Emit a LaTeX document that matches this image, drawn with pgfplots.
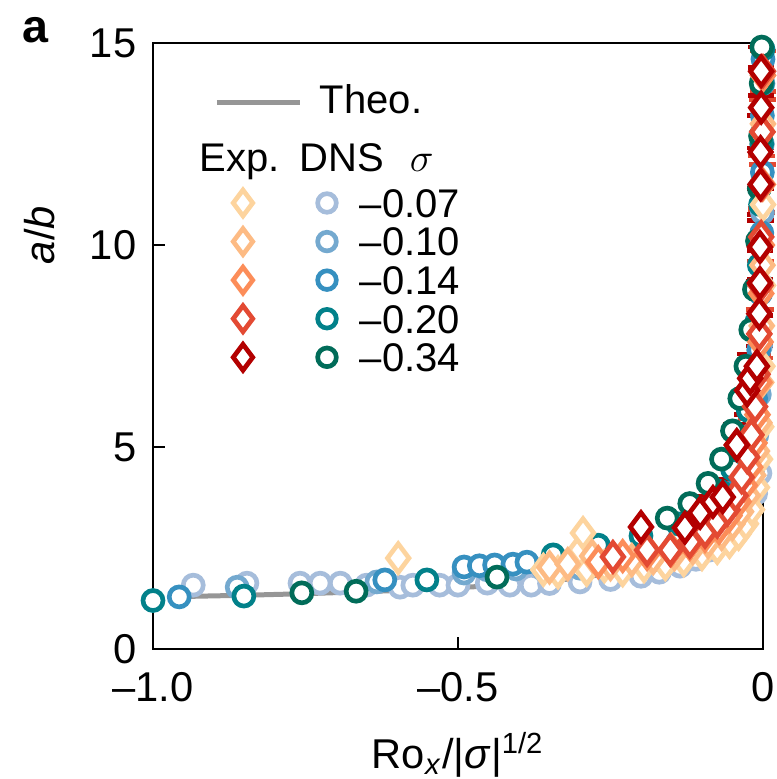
\documentclass[border=0pt]{standalone}
\usepackage{pgfplots}
\pgfplotsset{compat=1.18}
\usepackage{pgfplotstable}
\usepackage{fontspec}
\setmainfont{Liberation Sans}

\definecolor{eA}{HTML}{FDD49E}
\definecolor{eB}{HTML}{FDBB84}
\definecolor{eC}{HTML}{FC8D59}
\definecolor{eD}{HTML}{E34A33}
\definecolor{eE}{HTML}{B30000}
\definecolor{dA}{HTML}{A6BDDB}
\definecolor{dB}{HTML}{74A9CF}
\definecolor{dC}{HTML}{3690C0}
\definecolor{dD}{HTML}{02818A}
\definecolor{dE}{HTML}{016C59}
\definecolor{theo}{RGB}{150,150,150}

% ---------------- data ----------------
\pgfplotstableread{
x y
-0.950 1.30
-0.850 1.33
-0.750 1.37
-0.650 1.42
-0.550 1.48
-0.450 1.56
-0.380 1.64
-0.300 1.76
-0.220 1.95
-0.160 2.18
-0.110 2.50
-0.075 2.90
-0.050 3.40
-0.035 3.95
-0.024 4.65
-0.016 5.50
-0.011 6.50
-0.007 7.90
-0.0045 9.60
-0.003 11.5
-0.002 13.3
-0.0015 15.0
}\tTheo

\pgfplotstableread{
x y
-0.934 1.58
-0.846 1.63
-0.759 1.63
-0.726 1.63
-0.693 1.63
-0.650 1.58
-0.595 1.53
-0.574 1.58
-0.530 1.58
-0.500 1.58
-0.452 1.63
-0.415 1.58
-0.380 1.58
-0.350 1.62
-0.300 1.66
-0.250 1.72
-0.200 1.80
-0.170 1.90
-0.136 2.05
-0.110 2.22
-0.087 2.45
-0.065 2.68
-0.050 2.90
-0.035 3.15
-0.022 3.45
-0.012 3.85
-0.005 4.35
}\tdA

\pgfplotstableread{
x y
-0.862 1.53
-0.633 1.66
-0.490 1.88
-0.452 1.96
-0.405 1.98
-0.360 1.98
-0.300 2.00
-0.240 2.08
-0.180 2.20
-0.130 2.40
-0.090 2.70
-0.060 3.00
-0.040 3.40
-0.026 3.90
-0.016 4.50
-0.010 5.30
-0.006 6.30
-0.004 7.50
-0.002 9.00
-0.001 10.8
-0.001 12.5
0.000 14.0
}\tdB

\pgfplotstableread{
x y
-0.957 1.29
-0.620 1.71
-0.490 2.03
-0.465 2.06
-0.440 2.08
-0.410 2.10
-0.387 2.15
-0.330 2.15
-0.270 2.25
-0.200 2.40
-0.140 2.65
-0.095 3.00
-0.065 3.40
-0.045 3.90
-0.030 4.50
-0.019 5.30
-0.012 6.20
-0.007 7.40
-0.004 8.80
-0.002 10.3
-0.001 11.8
-0.001 13.2
0.000 14.6
}\tdC

\pgfplotstableread{
x y
-1.000 1.20
-0.851 1.31
-0.551 1.71
-0.344 2.33
-0.270 2.57
-0.200 2.80
-0.140 3.10
-0.100 3.45
-0.070 3.90
-0.050 4.45
-0.035 5.10
-0.024 5.90
-0.016 6.90
-0.010 8.10
-0.006 9.50
-0.004 11.0
-0.002 12.5
-0.001 14.0
0.000 14.85
}\tdD

\pgfplotstableread{
x y
-0.756 1.39
-0.667 1.43
-0.436 1.78
-0.157 3.24
-0.120 3.60
-0.090 4.10
-0.068 4.70
-0.050 5.40
-0.038 6.20
-0.028 7.00
-0.020 7.90
-0.014 8.90
-0.009 10.1
-0.006 11.4
-0.004 12.7
-0.003 14.0
-0.002 14.9
}\tdE

\pgfplotstableread{
x y
-0.598 2.25
-0.360 1.96
-0.336 1.90
-0.300 2.45
-0.295 2.87
-0.289 1.96
-0.260 2.05
-0.230 1.95
-0.195 2.05
-0.160 2.10
-0.130 2.20
-0.100 2.35
-0.075 2.50
-0.055 2.65
-0.040 2.85
-0.028 3.10
-0.018 3.45
-0.010 4.00
-0.005 4.70
-0.003 5.50
-0.001 7.00
0.000 9.00
0.000 11.0
}\teA

\pgfplotstableread{
x y
-0.350 2.02
-0.320 2.10
-0.280 2.30
-0.250 2.10
-0.215 2.20
-0.180 2.25
-0.145 2.35
-0.115 2.50
-0.090 2.65
-0.068 2.85
-0.050 3.10
-0.036 3.40
-0.025 3.80
-0.016 4.30
-0.010 4.90
-0.006 5.60
-0.003 6.60
-0.002 8.00
-0.001 9.50
0.000 11.5
0.000 13.0
}\teB

\pgfplotstableread{
x y
-0.270 2.15
-0.230 2.30
-0.190 2.35
-0.150 2.45
-0.120 2.60
-0.095 2.80
-0.072 3.00
-0.055 3.30
-0.040 3.65
-0.030 4.05
-0.021 4.50
-0.014 5.10
-0.009 5.80
-0.006 6.60
-0.004 7.60
-0.003 8.80
-0.002 10.0
-0.001 11.5
-0.001 12.8
0.000 14.2
}\teC

\pgfplotstableread{
x y
-0.246 2.28
-0.190 2.45
-0.152 2.45
-0.120 2.65
-0.095 2.90
-0.075 3.15
-0.058 3.45
}\teDa

\pgfplotstableread{
x y ey
-0.045 3.80 0.30
-0.035 4.25 0.35
-0.026 4.75 0.40
-0.019 5.30 0.40
-0.013 6.00 0.50
-0.009 6.80 0.50
-0.006 7.80 0.60
-0.004 9.00 0.60
-0.003 10.2 0.70
-0.002 11.5 0.70
-0.001 12.8 0.80
0.000 14.3 0.50
}\teDb

\pgfplotstableread{
x y
-0.200 3.02
-0.128 3.00
}\teEa

\pgfplotstableread{
x y ey
-0.103 3.37 0.40
-0.082 3.64 0.45
-0.066 3.76 0.45
-0.043 5.05 0.50
-0.026 6.40 0.60
-0.021 6.70 0.60
-0.010 7.00 0.70
-0.006 8.30 0.80
-0.005 9.06 0.80
-0.005 9.95 0.80
-0.004 11.5 0.90
-0.004 12.3 0.90
-0.003 13.4 1.00
-0.003 14.3 0.60
}\teEb

\pgfplotsset{
  dns/.style={only marks, mark=*, mark size=3pt, color=#1, line width=1.4pt,
              mark options={fill=white, solid}, forget plot},
  expd/.style={only marks, mark=diamond*, mark size=4.3pt, color=#1, line width=1.4pt,
              mark options={fill=white, solid}, forget plot},
  experr/.style={only marks, mark=diamond*, mark size=4.3pt, color=#1, line width=1.4pt,
              mark options={fill=white, solid}, forget plot,
              error bars/.cd, y dir=both, y explicit,
              error bar style={line width=1.4pt, #1},
              error mark options={rotate=90, mark size=4pt, line width=1.4pt, #1}},
}

\tikzset{legtxt/.style={anchor=base west, inner sep=0pt, outer sep=0pt, draw=none, fill=none,
                        font=\fontsize{12}{14}\selectfont},
         legbox/.style={draw=none, fill=none}}

\newcommand{\legrow}[3]{%
  \addlegendimage{legend image code/.code={%
    \path[legbox] (-18pt,-5.775pt) rectangle (70pt,5.775pt);
    \draw[#1, line width=1.4pt] plot[only marks, mark=diamond*, mark size=3.9pt,
          mark options={fill=white}] coordinates {(0pt,0pt)};
    \draw[#2, line width=1.4pt] plot[only marks, mark=*, mark size=2.8pt,
          mark options={fill=white}] coordinates {(25.2pt,0pt)};
    \node[legtxt] at (35.1pt,-4.3pt) {#3};
  }}%
  \addlegendentry{\mbox{}}%
}

\begin{document}
\begin{tikzpicture}
\begin{axis}[
  scale only axis,
  width=183pt, height=181.8pt,
  xmin=-1, xmax=0, ymin=0, ymax=15,
  clip=false,
  axis line style={line width=0.75pt},
  every tick/.style={line width=0.75pt, black},
  tick align=inside, tick pos=left,
  major tick length=3.6pt,
  xtick={-1,-0.5,0},
  xticklabels={\textendash1.0,\textendash0.5,0},
  ytick={0,5,10,15},
  yticklabels={0,5,10,15},
  tick label style={font=\fontsize{12.5}{14}\selectfont, inner sep=0pt},
  xticklabel style={anchor=north, yshift=-6.9pt},
  yticklabel style={anchor=east, xshift=-4.8pt},
  xlabel={Ro\textsubscript{\textit{x}}/|\textit{σ}|\textsuperscript{1/2}},
  ylabel={\textit{a}/\textit{b}},
  label style={font=\fontsize{12.5}{14}\selectfont, inner sep=0pt},
  xlabel style={at={([yshift=-35.7pt]rel axis cs:0.5,0)}, anchor=base},
  ylabel style={at={([xshift=-33.9pt]rel axis cs:0,0.683)}, anchor=center},
  legend style={draw=none, fill=none, inner sep=0pt, outer sep=0pt,
                row sep=0pt, column sep=0pt,
                nodes={inner sep=0pt, outer sep=0pt},
                at={(0.04918,0.9394)}, anchor=north west},
]
\coordinate (sw) at (rel axis cs:0,0);

% DNS (circles) and theory
\addplot[dns=dA] table[x=x,y=y] {\tdA};
\addplot[dns=dB] table[x=x,y=y] {\tdB};
\addplot[theo, line width=1.5pt, no marks, forget plot] table[x=x,y=y] {\tTheo};
\addplot[dns=dC] table[x=x,y=y] {\tdC};
\addplot[dns=dD] table[x=x,y=y] {\tdD};
\addplot[dns=dE] table[x=x,y=y] {\tdE};

% Experiments (diamonds)
\addplot[expd=eA] table[x=x,y=y] {\teA};
\addplot[expd=eB] table[x=x,y=y] {\teB};
\addplot[expd=eC] table[x=x,y=y] {\teC};
\addplot[expd=eD] table[x=x,y=y] {\teDa};
\addplot[experr=eD] table[x=x,y=y,y error=ey] {\teDb};
\addplot[expd=eE] table[x=x,y=y] {\teEa};
\addplot[experr=eE] table[x=x,y=y,y error=ey] {\teEb};

% Legend
\addlegendimage{legend image code/.code={%
  \path[legbox] (-18pt,-11.625pt) rectangle (70pt,5.775pt);
  \draw[theo, line width=1.5pt] (-7.8pt,-1.2pt) -- (17.1pt,-1.2pt);
  \node[legtxt] at (23.1pt,-4.3pt) {Theo.};
}}
\addlegendentry{\mbox{}}
\addlegendimage{legend image code/.code={%
  \path[legbox] (-18pt,-8.025pt) rectangle (70pt,5.775pt);
  \node[legtxt] at (-12.9pt,-4.3pt) {Exp.};
  \node[legtxt] at (17.1pt,-4.3pt) {DNS};
  \node[legtxt] at (50.1pt,-4.3pt) {$\sigma$};
}}
\addlegendentry{\mbox{}}
\legrow{eA}{dA}{\textendash0.07}
\legrow{eB}{dB}{\textendash0.10}
\legrow{eC}{dC}{\textendash0.14}
\legrow{eD}{dD}{\textendash0.20}
\legrow{eE}{dE}{\textendash0.34}
\end{axis}
\node[anchor=base west, inner sep=0pt, font=\bfseries\fontsize{14}{14}\selectfont]
  at ([shift={(-39.3pt,182.1pt)}]sw) {a};
\pgfresetboundingbox
\useasboundingbox ([shift={(-45.9pt,-39pt)}]sw) rectangle ++(233.1pt,233.7pt);
\end{tikzpicture}
\end{document}
